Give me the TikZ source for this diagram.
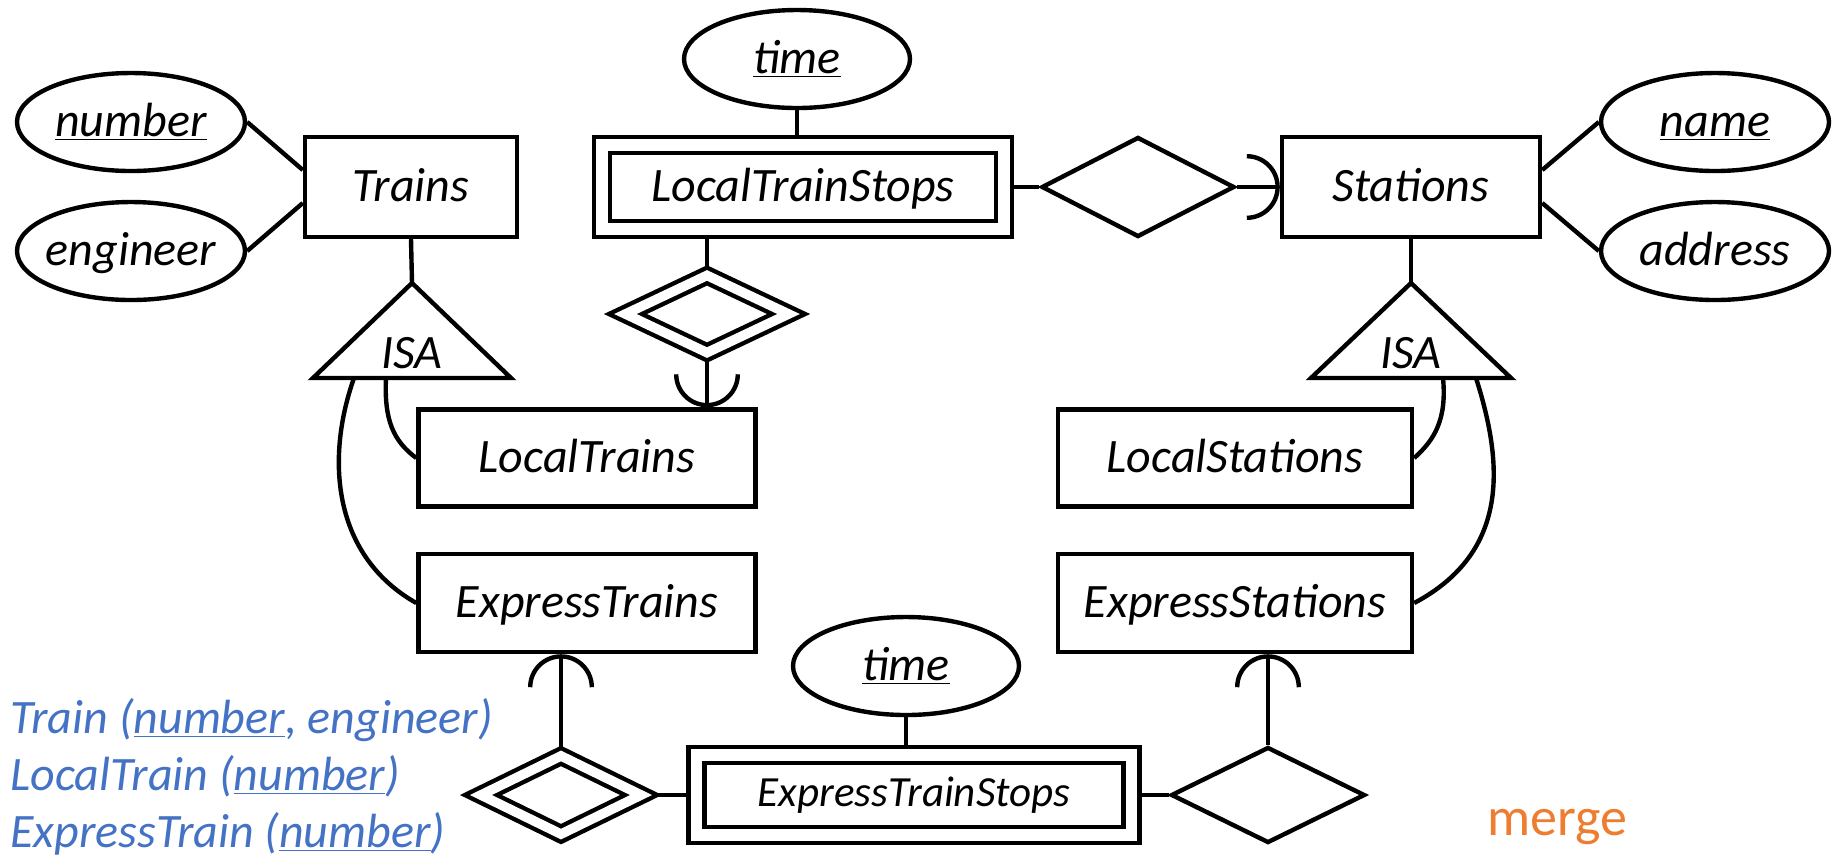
\documentclass[tikz,border=0pt]{standalone}
\usepackage{fontspec}
\setmainfont{Carlito}
\usetikzlibrary{shapes.geometric,arrows.meta,backgrounds}

\definecolor{schemablue}{RGB}{68,114,196}
\definecolor{mergeorange}{RGB}{237,125,49}

\tikzset{
  er/.style={draw, line width=2.2pt, fill=white, inner sep=0pt, text height=18pt, text depth=4pt, font=\fontsize{24}{28}\selectfont\itshape},
  entity/.style={er, rectangle, minimum height=50pt},
  weakentity/.style={entity, double, double distance=5.8pt, minimum height=42pt},
  attr/.style={er, ellipse, inner xsep=-4pt, minimum width=114pt, minimum height=49pt},
  rel/.style={er, diamond, minimum width=96.5pt, minimum height=50pt},
  weakrel/.style={rel, double, double distance=4.8pt, minimum width=82.5pt, minimum height=39.5pt},
  link/.style={line width=2.2pt},
  keyarc/.style={link, -{Arc Barb[length=16.5pt,width=33pt]}},
  isa/.style={line width=2.2pt, fill=white},
  isatext/.style={inner sep=0pt, anchor=base, font=\fontsize{24}{28}\selectfont\itshape},
  schema/.style={inner sep=0pt, anchor=base west, text=schemablue, font=\fontsize{24}{28}\selectfont\itshape},
}

\begin{document}
\begin{tikzpicture}[x=0.5pt,y=-0.5pt]
  \useasboundingbox (0,0) rectangle (1835,859);
  \node[attr] (number) at (131,122) {\underline{number}};
  \node[attr] (engineer) at (131,251) {engineer};
  \node[entity, minimum width=106pt] (trains) at (411,187) {Trains};
  \node[attr, minimum width=113pt] (time1) at (797,59) {\underline{time}};
  \node[weakentity, minimum width=201pt] (lts) at (803,187) {LocalTrainStops};
  \node[rel] (stopsat1) at (1138,187) {};
  \node[entity, minimum width=129pt] (stations) at (1411,187) {Stations};
  \node[attr] (name) at (1715,122) {\underline{name}};
  \node[attr] (address) at (1715,251) {address};
  \node[weakrel] (localof) at (707,314) {};
  \node[entity, minimum width=168.5pt, minimum height=48.5pt] (localtrains) at (587,458) {LocalTrains};
  \node[entity, minimum width=177pt, minimum height=48.5pt] (localstations) at (1235,458) {LocalStations};
  \node[entity, minimum width=168.5pt, minimum height=49pt] (expresstrains) at (587,603) {ExpressTrains};
  \node[entity, minimum width=177pt, minimum height=49pt] (expressstations) at (1235,603) {ExpressStations};
  \node[attr, minimum width=113pt] (time2) at (906,666) {\underline{time}};
  \node[weakentity, minimum width=217.5pt, minimum height=40pt, text height=15pt, text depth=4pt, font=\fontsize{21.5}{26}\selectfont\itshape] (ets) at (914,795) {ExpressTrainStops};
  \node[weakrel, minimum width=81pt, minimum height=40pt] (expressof) at (561,795) {};
  \node[rel, minimum width=97pt, minimum height=48pt] (stopsat2) at (1268,795) {};

  \coordinate (isaL) at (412,283);
  \draw[isa] (isaL) -- ++(-99,95) -- ++(198,0) -- cycle;
  \node[isatext] (isaLtext) at (412,368) {ISA};
  \coordinate (isaLo) at (354,378);
  \coordinate (isaLi) at (386,378);
  \coordinate (isaR) at (1411,283);
  \draw[isa] (isaR) -- ++(-100,95) -- ++(200,0) -- cycle;
  \node[isatext] (isaRtext) at (1411,368) {ISA};
  \coordinate (isaRi) at (1443,378);
  \coordinate (isaRo) at (1476,378);

  \begin{scope}[on background layer]
    \draw[link] (number.east) -- ([yshift=8.5pt]trains.west);
    \draw[link] (engineer.east) -- ([yshift=-8pt]trains.west);
    \draw[link] (trains.south) -- (isaL);
    \draw[link] (time1.south) -- (time1.south |- lts.north);
    \draw[link] (lts.east) -- (stopsat1.west);
    \draw[keyarc] (stopsat1.east) -- (stations.west);
    \draw[link] ([yshift=8.5pt]stations.east) -- (name.west);
    \draw[link] ([yshift=-8pt]stations.east) -- (address.west);
    \draw[link] (stations.south) -- (isaR);
    \draw[link] (localof.north |- lts.south) -- (localof.north);
    \draw[keyarc] (localof.south) -- (localof.south |- localtrains.north);
    \draw[link] (isaLi) .. controls +(-2,42) and +(-23,-17) .. (localtrains.west);
    \draw[link] (isaLo) .. controls +(-29,82) and +(-83,-47) .. (expresstrains.west);
    \draw[link] (isaRi) .. controls +(4,42) and +(20,-18) .. (localstations.east);
    \draw[link] (isaRo) .. controls +(26,82) and +(98,-52) .. (expressstations.east);
    \draw[keyarc] (expressof.north) -- (expressof.north |- expresstrains.south);
    \draw[link] (expressof.east) -- (ets.west);
    \draw[link] (time2.south) -- (time2.south |- ets.north);
    \draw[link] (ets.east) -- (stopsat2.west);
    \draw[keyarc] (stopsat2.north) -- (stopsat2.north |- expressstations.south);
  \end{scope}

  \node[schema] (trainrel) at (10,733) {Train (\underline{number}, engineer)};
  \node[schema] (localrel) at (10,790) {LocalTrain (\underline{number})};
  \node[schema] (expressrel) at (10,847) {ExpressTrain (\underline{number})};
  \node[inner sep=0pt, anchor=base west, text=mergeorange, font=\fontsize{27}{32}\selectfont] (merge) at (1487,835) {merge};
\end{tikzpicture}
\end{document}
